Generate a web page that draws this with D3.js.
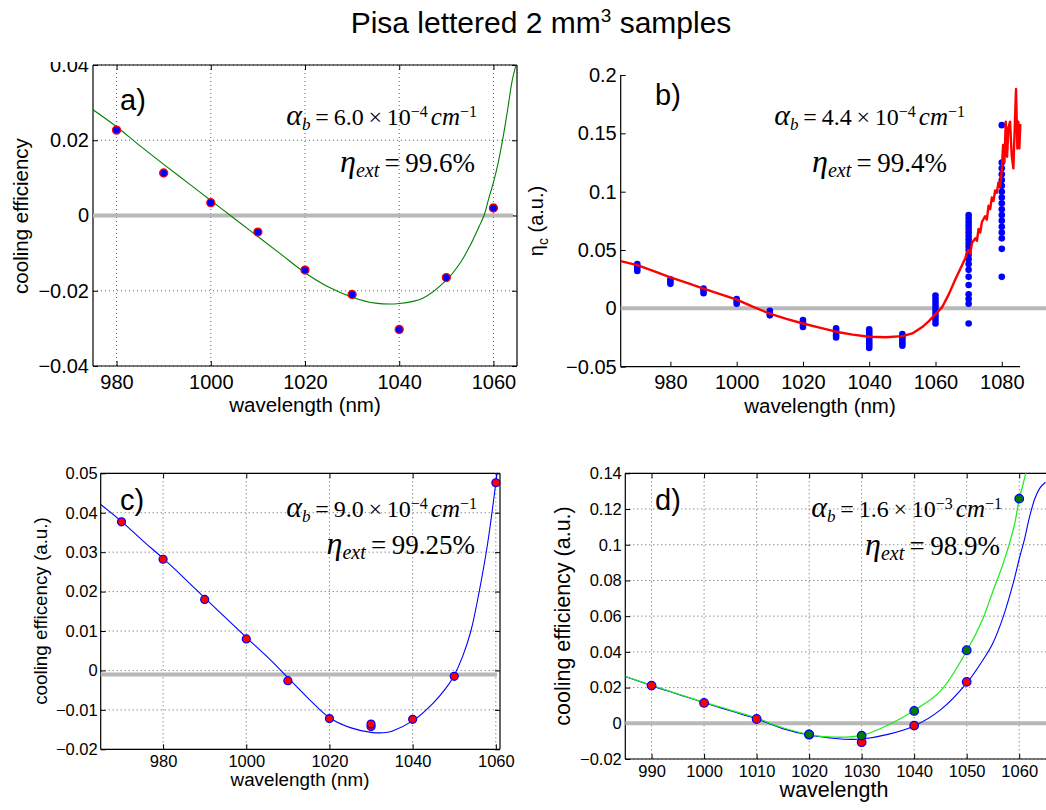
<!DOCTYPE html>
<html><head><meta charset="utf-8">
<script src="https://cdn.jsdelivr.net/npm/d3@7"></script>
<style>body{margin:0;background:#fff} svg{display:block}</style>
</head><body><svg id="c" width="1046" height="810"></svg>
<script>
// ---------- DATA ----------
// panel a
const aWl  = [980, 990, 1000, 1010, 1020, 1030, 1040, 1050, 1060];
const aEff = [0.0227, 0.0113, 0.0034, -0.0044, -0.0145, -0.0210, -0.0303, -0.0165, 0.0020];
const aFitWl  = [975, 980, 985, 990, 995, 1000, 1005, 1010, 1015, 1020, 1025, 1030, 1035, 1040, 1045, 1050, 1053, 1055, 1057, 1058, 1059, 1060, 1061, 1062, 1063, 1064, 1065];
const aFitEff = [0.0281, 0.0236, 0.0185, 0.0136, 0.0088, 0.0040, -0.0008, -0.0056, -0.0104, -0.0152, -0.0190, -0.0217, -0.0233, -0.0234, -0.0220, -0.0172, -0.0125, -0.0081, -0.0028, 0.0000, 0.0045, 0.0088, 0.0140, 0.0205, 0.0280, 0.0360, 0.0410];
const aXTicks = [980, 1000, 1020, 1040, 1060];
const aYTicks = [-0.04, -0.02, 0, 0.02, 0.04];
const aYLabels = ["\u22120.04", "\u22120.02", "0", "0.02", "0.04"];

// panel b : clusters of measurements
const bWl = [970, 980, 990, 1000, 1010, 1020, 1030, 1040, 1050, 1060, 1070, 1080];
const bEff = [
  [0.032, 0.034, 0.036, 0.038],
  [0.021, 0.023, 0.025],
  [0.013, 0.015, 0.017],
  [0.004, 0.006, 0.008],
  [-0.006, -0.004, -0.002],
  [-0.016, -0.014, -0.012, -0.010],
  [-0.025, -0.023, -0.021, -0.019, -0.017],
  [-0.034, -0.032, -0.030, -0.028, -0.026, -0.024, -0.022, -0.020, -0.018],
  [-0.032, -0.030, -0.028, -0.026, -0.024, -0.022],
  [-0.013, -0.010, -0.007, -0.004, -0.001, 0.002, 0.005, 0.008, 0.011],
  [0.080, 0.077, 0.074, 0.071, 0.068, 0.065, 0.062, 0.059, 0.056, 0.053, 0.050, 0.046, 0.042, 0.038, 0.033, 0.027, 0.020, 0.012, 0.008, 0.004, -0.013],
  [0.157, 0.125, 0.120, 0.115, 0.110, 0.105, 0.100, 0.095, 0.090, 0.085, 0.080, 0.075, 0.070, 0.065, 0.060, 0.051, 0.027]
];
const bFitWl  = [965, 970, 975, 980, 985, 990, 995, 1000, 1005, 1010, 1015, 1020, 1025, 1030, 1035, 1040, 1045, 1050, 1053, 1056, 1058, 1060, 1062, 1064, 1066, 1067, 1068, 1069, 1069.5, 1070, 1070.5, 1071, 1072, 1072.5, 1073, 1073.5, 1074, 1075, 1075.5, 1076, 1076.5, 1077, 1077.5, 1078, 1078.5, 1079, 1079.5, 1080, 1080.4, 1080.8, 1081.2, 1081.6, 1082, 1082.5, 1083, 1083.5, 1084.3, 1084.7, 1085, 1085.3, 1085.6];
const bFitEff = [0.0405, 0.0370, 0.0320, 0.0265, 0.0218, 0.0170, 0.0122, 0.0075, 0.0012, -0.0045, -0.0090, -0.0130, -0.0165, -0.0200, -0.0225, -0.0243, -0.0248, -0.0238, -0.0215, -0.0160, -0.0110, -0.0050, 0.0010, 0.0120, 0.0250, 0.0310, 0.0370, 0.0430, 0.0480, 0.0500, 0.0470, 0.0560, 0.0600, 0.0580, 0.0680, 0.0650, 0.0740, 0.0790, 0.0760, 0.0880, 0.0850, 0.0950, 0.0920, 0.1010, 0.0990, 0.1080, 0.1050, 0.1180, 0.1400, 0.1250, 0.1600, 0.1300, 0.1550, 0.1600, 0.1310, 0.1200, 0.1880, 0.1370, 0.1600, 0.1370, 0.1580];
const bXTicks = [980, 1000, 1020, 1040, 1060, 1080];
const bYTicks = [-0.05, 0, 0.05, 0.1, 0.15, 0.2];
const bYLabels = ["\u22120.05", "0", "0.05", "0.1", "0.15", "0.2"];

// panel c
const cWl  = [970, 980, 990, 1000, 1010, 1020, 1030, 1030, 1040, 1050, 1060];
const cEff = [0.0377, 0.0282, 0.0180, 0.0080, -0.0026, -0.0122, -0.0142, -0.0136, -0.0124, -0.0015, 0.0476];
const cFitWl  = [965, 970, 975, 980, 985, 990, 995, 1000, 1005, 1010, 1015, 1020, 1025, 1030, 1033, 1035, 1040, 1045, 1048, 1050, 1052, 1054, 1056, 1058, 1060, 1061];
const cFitEff = [0.0421, 0.0378, 0.0330, 0.0284, 0.0235, 0.0184, 0.0134, 0.0084, 0.0035, -0.0018, -0.0072, -0.0120, -0.0145, -0.0157, -0.0158, -0.0154, -0.0128, -0.0082, -0.0045, -0.0012, 0.0035, 0.0100, 0.0200, 0.0320, 0.0476, 0.0560];
const cXTicks = [980, 1000, 1020, 1040, 1060];
const cYTicks = [-0.02, -0.01, 0, 0.01, 0.02, 0.03, 0.04, 0.05];
const cYLabels = ["\u22120.02", "\u22120.01", "0", "0.01", "0.02", "0.03", "0.04", "0.05"];

// panel d
const dRedWl  = [990, 1000, 1010, 1020, 1030, 1040, 1050];
const dRedEff = [0.0211, 0.0114, 0.0024, -0.0064, -0.0106, -0.0013, 0.0232];
const dGreenWl  = [1020, 1030, 1040, 1050, 1060];
const dGreenEff = [-0.0062, -0.0069, 0.0069, 0.0409, 0.1258];
const dGreenFitWl  = [985, 990, 995, 1000, 1005, 1010, 1015, 1020, 1025, 1030, 1035, 1040, 1045, 1050, 1053, 1055, 1057, 1059, 1060, 1061, 1062];
const dGreenFitEff = [0.0262, 0.0213, 0.0165, 0.0118, 0.0074, 0.0030, -0.0025, -0.0063, -0.0078, -0.0068, -0.0010, 0.0072, 0.0180, 0.0405, 0.0580, 0.0740, 0.0900, 0.1100, 0.1255, 0.1370, 0.1500];
const dBlueFitWl  = [985, 990, 995, 1000, 1005, 1010, 1015, 1020, 1025, 1028, 1030, 1035, 1040, 1045, 1050, 1053, 1055, 1057, 1059, 1060, 1061, 1062, 1063, 1064, 1065];
const dBlueFitEff = [0.0262, 0.0211, 0.0163, 0.0115, 0.0070, 0.0025, -0.0030, -0.0066, -0.0085, -0.0090, -0.0088, -0.0062, -0.0015, 0.0075, 0.0225, 0.0350, 0.0450, 0.0600, 0.0800, 0.0920, 0.1030, 0.1160, 0.1260, 0.1320, 0.1350];
const dXTicks = [990, 1000, 1010, 1020, 1030, 1040, 1050, 1060];
const dYTicks = [-0.02, 0, 0.02, 0.04, 0.06, 0.08, 0.1, 0.12, 0.14];
const dYLabels = ["\u22120.02", "0", "0.02", "0.04", "0.06", "0.08", "0.1", "0.12", "0.14"];

// ---------- DRAW ----------
const SANS = "'Liberation Sans', Arial, Helvetica, sans-serif";
const SERIF = "'Liberation Serif', 'Times New Roman', serif";
const svg = d3.select("#c");
svg.append("rect").attr("width", 1046).attr("height", 810).attr("fill", "#fff");
const defs = svg.append("defs");

function makePanel(o) {
  const x = d3.scaleLinear().domain(o.xd).range([o.l, o.r]);
  const y = d3.scaleLinear().domain(o.yd).range([o.b, o.t]);
  const g = svg.append("g");
  defs.append("clipPath").attr("id", "clip" + o.id).append("rect")
    .attr("x", o.l).attr("y", o.t).attr("width", o.r - o.l).attr("height", o.b - o.t);
  if (o.grid) {
    const gg = g.append("g").attr("stroke", "#333").attr("stroke-width", 0.8).attr("stroke-dasharray", "1,3");
    o.xt.forEach(v => gg.append("line").attr("x1", x(v)).attr("x2", x(v)).attr("y1", o.t).attr("y2", o.b));
    o.yt.forEach(v => gg.append("line").attr("y1", y(v)).attr("y2", y(v)).attr("x1", o.l).attr("x2", o.r));
  }
  const styleAxis = (sel, fs) => {
    sel.attr("font-family", SANS).attr("font-size", fs);
    sel.selectAll("text").attr("fill", "#000");
    sel.selectAll("line").attr("stroke", "#000");
    sel.select(".domain").remove();
  };
  const xa = g.append("g").attr("transform", `translate(0,${o.b})`)
    .call(d3.axisBottom(x).tickValues(o.xt).tickFormat(d3.format("d")).tickSizeInner(-5).tickSizeOuter(0).tickPadding(o.xpad));
  styleAxis(xa, o.fs);
  const ylab = {}; o.yt.forEach((v, i) => ylab[v] = o.yl[i]);
  const ya = g.append("g").attr("transform", `translate(${o.l},0)`)
    .call(d3.axisLeft(y).tickValues(o.yt).tickFormat(v => ylab[v]).tickSizeInner(-5).tickSizeOuter(0).tickPadding(o.ypad));
  styleAxis(ya, o.fs);
  if (o.box) {
    const ta = g.append("g").attr("transform", `translate(0,${o.t})`)
      .call(d3.axisTop(x).tickValues(o.xt).tickFormat("").tickSizeInner(-5).tickSizeOuter(0));
    styleAxis(ta, o.fs);
    if (o.rightAxis !== false) {
      const ra = g.append("g").attr("transform", `translate(${o.r},0)`)
        .call(d3.axisRight(y).tickValues(o.yt).tickFormat("").tickSizeInner(-5).tickSizeOuter(0));
      styleAxis(ra, o.fs);
    }
    g.append("line").attr("x1", o.l).attr("x2", o.r).attr("y1", o.t).attr("y2", o.t).attr("stroke", "#000").attr("stroke-width", 1.2);
    if (o.rightAxis !== false)
      g.append("line").attr("x1", o.r).attr("x2", o.r).attr("y1", o.t).attr("y2", o.b).attr("stroke", "#000").attr("stroke-width", 1.2);
  }
  g.append("line").attr("x1", o.l).attr("x2", o.r).attr("y1", o.b).attr("y2", o.b).attr("stroke", "#000").attr("stroke-width", 1.2);
  g.append("line").attr("x1", o.l).attr("x2", o.l).attr("y1", o.t).attr("y2", o.b).attr("stroke", "#000").attr("stroke-width", 1.2);
  return {x, y, g};
}

function zeroLine(p, x1, x2, v) {
  p.g.append("line").attr("x1", x1).attr("x2", x2).attr("y1", p.y(v)).attr("y2", p.y(v))
    .attr("stroke", "#b8b8b8").attr("stroke-width", 4);
}
function curve(p, id, wl, eff, color, w) {
  const pts = wl.map((d, i) => [d, eff[i]]);
  p.g.append("path").datum(pts)
    .attr("clip-path", id ? `url(#clip${id})` : null)
    .attr("fill", "none").attr("stroke", color).attr("stroke-width", w).attr("stroke-linejoin", "round")
    .attr("d", d3.line().x(d => p.x(d[0])).y(d => p.y(d[1])).curve(d3.curveCatmullRom.alpha(0.5)));
}
function noisyLine(p, wl, eff, color, w) {
  const pts = wl.map((d, i) => [d, eff[i]]);
  p.g.append("path").datum(pts)
    .attr("fill", "none").attr("stroke", color).attr("stroke-width", w).attr("stroke-linejoin", "round")
    .attr("d", d3.line().x(d => p.x(d[0])).y(d => p.y(d[1])));
}
function dots(p, wl, eff, fill, stroke, r, sw) {
  p.g.append("g").selectAll("circle").data(wl.map((d, i) => [d, eff[i]])).join("circle")
    .attr("cx", d => p.x(d[0])).attr("cy", d => p.y(d[1])).attr("r", r)
    .attr("fill", fill).attr("stroke", stroke).attr("stroke-width", sw);
}
function label(txt, x, y, fs, rot, anchor) {
  const t = svg.append("text").attr("font-family", SANS).attr("font-size", fs).attr("fill", "#000")
    .attr("text-anchor", anchor || "middle");
  if (rot) t.attr("transform", `translate(${x},${y}) rotate(-90)`); else t.attr("x", x).attr("y", y);
  t.text(txt);
  return t;
}
// parts: [text, kind, size]; kind: i (italic), n (normal), sub (italic, lowered), sup (raised)
function mathLine(xEnd, y, parts) {
  const t = svg.append("text").attr("font-family", SERIF).attr("fill", "#000")
    .attr("x", xEnd).attr("y", y).attr("text-anchor", "end");
  let cur = 0;
  parts.forEach(([s, kind, size]) => {
    let off = 0, italic = false;
    if (kind === "i") italic = true;
    if (kind === "sub") { off = 5; italic = true; }
    if (kind === "sup") { off = -8; }
    const ts = t.append("tspan").attr("dy", off - cur).attr("font-size", size).text(s);
    if (italic) ts.attr("font-style", "italic");
    cur = off;
  });
}
const TS = "\u2009";
function alphaLine(xEnd, y, mant, ex) {
  mathLine(xEnd, y, [["α", "i", 30], ["b", "sub", 17], [TS + "=" + TS + mant + TS + "×" + TS + "10", "n", 24],
    [ex, "sup", 16], [" ", "n", 12], ["cm", "i", 25], ["−1", "sup", 16]]);
}
function etaLine(xEnd, y, val) {
  mathLine(xEnd, y, [["η", "i", 32], ["ext", "sub", 20], [TS + "=" + TS + val, "n", 27]]);
}

// Title
const title = svg.append("text").attr("x", 541).attr("y", 33).attr("text-anchor", "middle")
  .attr("font-family", SANS).attr("font-size", 30).attr("fill", "#000");
title.append("tspan").text("Pisa lettered 2 mm");
title.append("tspan").attr("font-size", 19).attr("dy", -11).text("3");
title.append("tspan").attr("dy", 11).text(" samples");

// ---- Panel a ----
const pa = makePanel({id: "a", l: 93, r: 517, t: 65, b: 366, xd: [975, 1065], yd: [-0.04, 0.04],
  xt: aXTicks, yt: aYTicks, yl: aYLabels, grid: true, box: true, fs: 20, xpad: 9, ypad: 4});
zeroLine(pa, 93, 513, 0);
curve(pa, "a", aFitWl, aFitEff, "#008000", 1.1);
dots(pa, aWl, aEff, "#0000ff", "#ff0000", 4, 1.3);
// emulate cropped top of figure a
svg.append("rect").attr("x", 30).attr("y", 45).attr("width", 62).attr("height", 17).attr("fill", "#fff");
label("cooling efficiency", 28, 216, 20.5, true);
label("wavelength (nm)", 305, 412, 20.5);
svg.append("text").attr("x", 120).attr("y", 110).attr("font-family", SANS).attr("font-size", 29).text("a)");
alphaLine(477, 125, "6.0", "−4");
etaLine(475, 172, "99.6%");

// ---- Panel b ----
const pb = makePanel({id: "b", l: 620.7, r: 1020, t: 75, b: 366.7, xd: [965, 1085.5], yd: [-0.05, 0.2],
  xt: bXTicks, yt: bYTicks, yl: bYLabels, grid: false, box: false, fs: 20, xpad: 8, ypad: 4});
zeroLine(pb, 620.7, 1046, 0);
const bw = [], be = [];
bWl.forEach((w, i) => bEff[i].forEach(v => { bw.push(w); be.push(v); }));
dots(pb, bw, be, "#0000ff", "none", 3.3, 0);
noisyLine(pb, bFitWl, bFitEff, "#ff0000", 2.4);
const etaC = svg.append("text").attr("font-family", SANS).attr("font-size", 20).attr("text-anchor", "middle")
  .attr("transform", "translate(543,221) rotate(-90)");
etaC.append("tspan").text("η");
etaC.append("tspan").attr("font-size", 14).attr("dy", 5).text("c");
etaC.append("tspan").attr("dy", -5).text(" (a.u.)");
label("wavelength (nm)", 820, 413, 20.5);
svg.append("text").attr("x", 655).attr("y", 105).attr("font-family", SANS).attr("font-size", 29).text("b)");
alphaLine(965, 125, "4.4", "−4");
etaLine(947, 172, "99.4%");

// ---- Panel c ----
const pc = makePanel({id: "c", l: 100.7, r: 500, t: 473.3, b: 749.3, xd: [965, 1061], yd: [-0.02, 0.05],
  xt: cXTicks, yt: cYTicks, yl: cYLabels, grid: true, box: true, fs: 16.5, xpad: 6, ypad: 3});
zeroLine(pc, 100.7, 497, -0.001);
curve(pc, "c", cFitWl, cFitEff, "#0000ff", 1.1);
dots(pc, cWl, cEff, "#ff0000", "#0000ff", 4, 1.2);
label("cooling efficency (a.u.)", 47, 611, 18.8, true);
label("wavelength (nm)", 300, 786, 18.8);
svg.append("text").attr("x", 120).attr("y", 510).attr("font-family", SANS).attr("font-size", 29).text("c)");
alphaLine(477, 517, "9.0", "−4");
etaLine(475, 554, "99.25%");

// ---- Panel d ----
const pd = makePanel({id: "d", l: 625.3, r: 1046, t: 473.3, b: 759, xd: [985, 1065.1], yd: [-0.02, 0.14],
  xt: dXTicks, yt: dYTicks, yl: dYLabels, grid: true, box: true, rightAxis: false, fs: 16.5, xpad: 6, ypad: 3.5});
zeroLine(pd, 625.3, 1046, 0);
curve(pd, "d", dBlueFitWl, dBlueFitEff, "#0000ff", 1.1);
curve(pd, "d", dGreenFitWl, dGreenFitEff, "#22ee22", 1.3);
dots(pd, dRedWl, dRedEff, "#ff0000", "#0000ff", 4.3, 1.2);
dots(pd, dGreenWl, dGreenEff, "#007a00", "#0000ff", 4.3, 1.2);
label("cooling efficiency (a.u.)", 570, 616, 21.5, true);
label("wavelength", 834, 797, 21.5);
svg.append("text").attr("x", 655).attr("y", 510).attr("font-family", SANS).attr("font-size", 29).text("d)");
alphaLine(1002, 517, "1.6", "−3");
etaLine(1000, 555, "98.9%");
</script></body></html>
